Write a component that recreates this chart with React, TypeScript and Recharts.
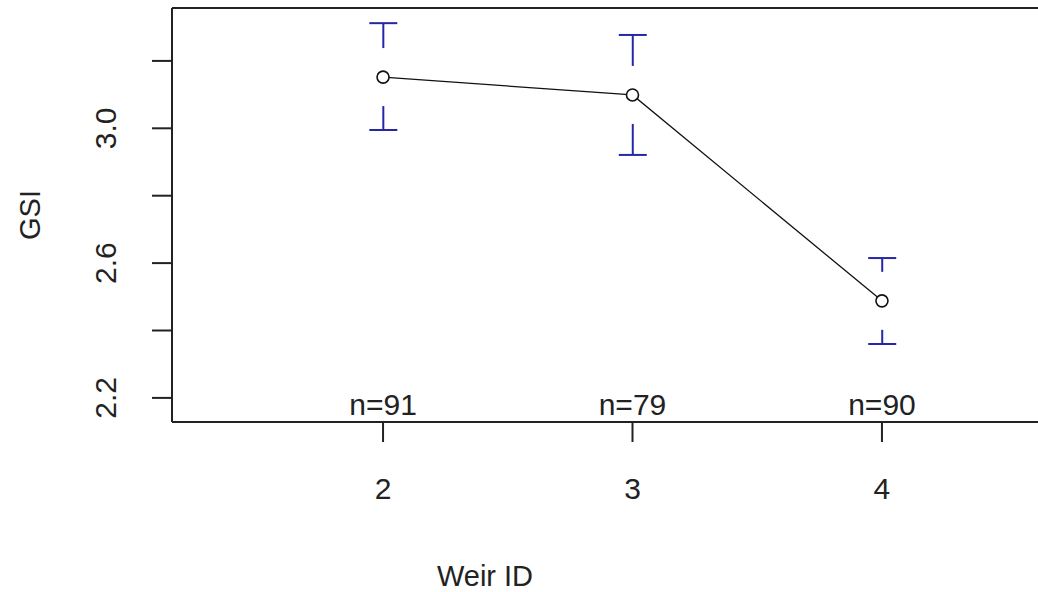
import React from 'react'
import { ComposedChart, XAxis, YAxis, Line, Bar, Scatter, ReferenceLine, Label } from 'recharts'

// values (plotmeans style: mean ± CI per weir)
const weirs = [2, 3, 4]
const means = [3.152, 3.099, 2.488]
const upper = [3.312, 3.277, 2.615]
const lower = [2.995, 2.921, 2.36]
const nCounts = [91, 79, 90]

const yTicks = [2.2, 2.4, 2.6, 2.8, 3.0, 3.2]
const yTickLabels = ['2.2', '', '2.6', '', '3.0', '']
const xDomain = [1.154, 4.834]
const yDomain = [2.1285, 3.357]

const FONT = '"Liberation Sans", Arial, sans-serif'
const INK = '#222'
const BAR_BLUE = '#2626a8'

const data = weirs.map((w, i) => ({
  weir: w,
  mean: means[i],
  ci: [lower[i], upper[i]],
  floor: yDomain[0],
  n: nCounts[i],
}))

// error bar with a gap around the mean point, like gplots::plotCI
const CIBar = (props: any) => {
  const { x, y, width, height, payload } = props
  const cx = x + width / 2
  const hi = payload.ci[1]
  const lo = payload.ci[0]
  const my = y + height * (hi - payload.mean) / (hi - lo)
  const gap = 29
  const top = y
  const bot = y + height
  return (
    <g stroke={BAR_BLUE} strokeWidth={2} fill="none">
      <line x1={x} x2={x + width} y1={top} y2={top} />
      {my - gap > top && <line x1={cx} x2={cx} y1={top} y2={my - gap} />}
      <line x1={x} x2={x + width} y1={bot} y2={bot} />
      {my + gap < bot && <line x1={cx} x2={cx} y1={my + gap} y2={bot} />}
    </g>
  )
}

const NLabel = (props: any) => {
  const { cx, cy, payload } = props
  return (
    <text x={cx} y={cy - 7} textAnchor="middle" fontSize={30} fontFamily={FONT} fill={INK}>
      n={payload.n}
    </text>
  )
}

const XTick = (props: any) => {
  const { x, y, payload } = props
  return (
    <text x={x} y={y + 57} textAnchor="middle" fontSize={30} fontFamily={FONT} fill={INK}>
      {payload.value}
    </text>
  )
}

const YTick = (props: any) => {
  const { x, y, payload, index } = props
  const label = yTickLabels[index] ?? ''
  if (!label) return <g />
  const tx = x - 36
  return (
    <text x={tx} y={y} transform={`rotate(-90, ${tx}, ${y})`} textAnchor="middle"
      fontSize={30} fontFamily={FONT} fill={INK}>
      {label}
    </text>
  )
}

export default function App() {
  return (
    <div style={{ position: 'fixed', left: 0, top: 0, width: 1038, height: 592, overflow: 'hidden', background: '#fff' }}>
      <ComposedChart width={1100} height={592} data={data} margin={{ top: 8, right: 10, bottom: 0, left: 0 }}>
        <XAxis dataKey="weir" type="number" domain={xDomain} ticks={weirs} allowDataOverflow
          height={170} tickSize={20} tickMargin={0} tick={<XTick />}
          axisLine={{ stroke: INK, strokeWidth: 2 }} tickLine={{ stroke: INK, strokeWidth: 2 }}>
          <Label content={(p: any) => {
            const vb = p.viewBox
            return (
              <text x={485} y={vb.y + 164} textAnchor="middle" fontSize={29} fontFamily={FONT} fill={INK}>Weir ID</text>
            )
          }} />
        </XAxis>
        <YAxis type="number" domain={yDomain} ticks={yTicks} allowDataOverflow interval={0}
          width={172} tickSize={20} tickMargin={0} tick={<YTick />}
          axisLine={{ stroke: INK, strokeWidth: 2 }} tickLine={{ stroke: INK, strokeWidth: 2 }}>
          <Label content={(p: any) => {
            const vb = p.viewBox
            const cy = vb.y + vb.height / 2
            return (
              <text x={40} y={cy} transform={`rotate(-90, 40, ${cy})`} textAnchor="middle"
                fontSize={29} fontFamily={FONT} fill={INK}>GSI</text>
            )
          }} />
        </YAxis>
        <ReferenceLine y={yDomain[1]} stroke={INK} strokeWidth={2} ifOverflow="extendDomain" />
        <Bar dataKey="ci" barSize={28} shape={<CIBar />} isAnimationActive={false} />
        <Line dataKey="mean" stroke="#111" strokeWidth={1.3}
          dot={{ r: 6, fill: '#fff', stroke: '#111', strokeWidth: 1.6 }}
          activeDot={false} isAnimationActive={false} />
        <Scatter dataKey="floor" shape={<NLabel />} isAnimationActive={false} />
      </ComposedChart>
    </div>
  )
}
